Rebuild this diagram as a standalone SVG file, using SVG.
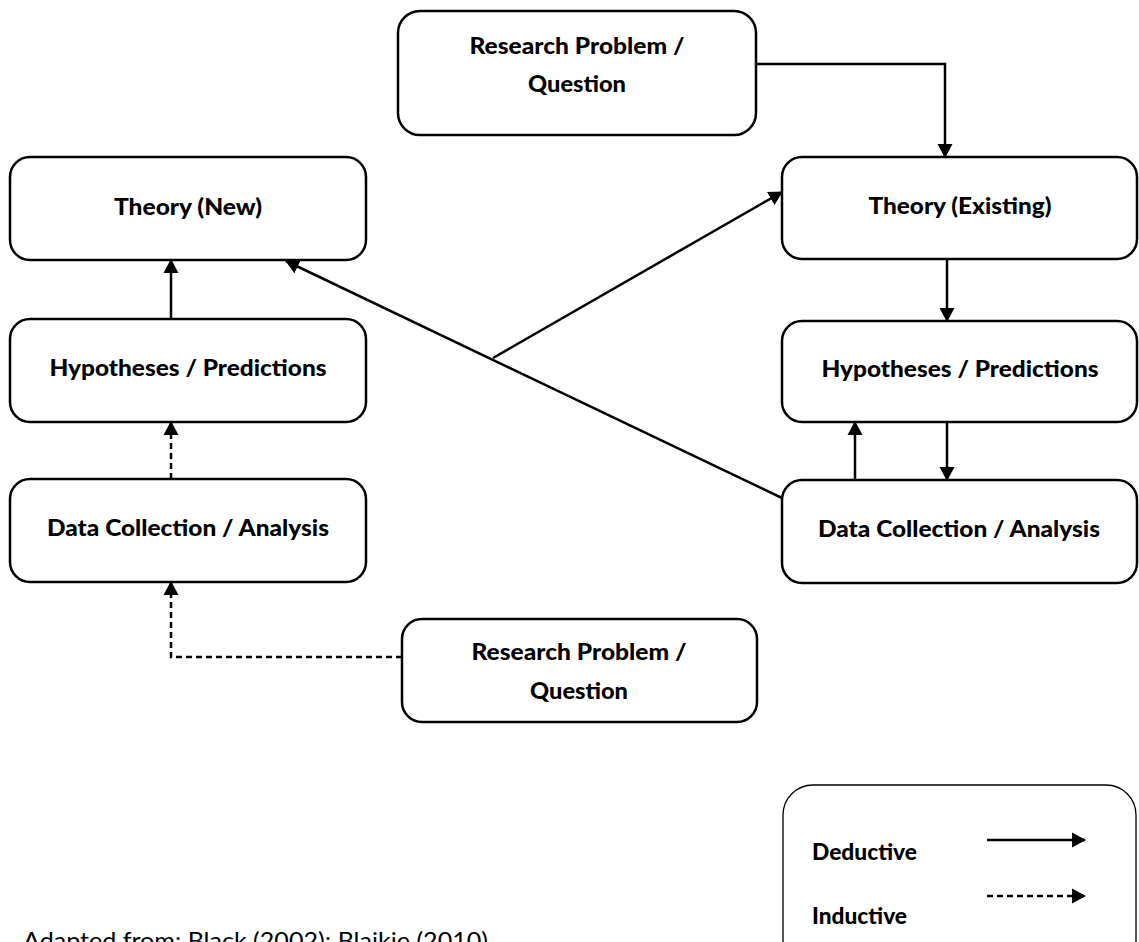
<svg xmlns="http://www.w3.org/2000/svg" width="1139" height="942" viewBox="0 0 1139 942">
  <style>
    .box { fill: #ffffff; stroke: #000000; stroke-width: 2.5; }
    .legend { fill: #ffffff; stroke: #000000; stroke-width: 1.3; }
    .lbl { font-family: Lato, "Liberation Sans", sans-serif; font-weight: 900; font-size: 23px; fill: #000000; text-anchor: middle; }
    .leg { font-family: Lato, "Liberation Sans", sans-serif; font-weight: 900; font-size: 23px; fill: #000000; }
    .note { font-family: Lato, "Liberation Sans", sans-serif; font-size: 23px; fill: #000000; }
    .ded { fill: none; stroke: #000000; stroke-width: 2.5; }
    .ind { fill: none; stroke: #000000; stroke-width: 2.5; stroke-dasharray: 6 4; }
  </style>
  <defs>
    <marker id="arrow" markerUnits="userSpaceOnUse" markerWidth="15" markerHeight="16" refX="13" refY="8" orient="auto">
      <path d="M0,0.5 L14,8 L0,15.5 Z" fill="#000000"/>
    </marker>
  </defs>

  <rect width="1139" height="942" fill="#ffffff"/>

  <!-- connectors -->
  <g id="connectors">
    <!-- deductive path -->
    <path class="ded" d="M756,64 H945 V157" marker-end="url(#arrow)"/>
    <path class="ded" d="M947,259 V321" marker-end="url(#arrow)"/>
    <path class="ded" d="M947,422 V480" marker-end="url(#arrow)"/>
    <path class="ded" d="M855,480 V422" marker-end="url(#arrow)"/>
    <path class="ded" d="M782,498 L286,261" marker-end="url(#arrow)"/>
    <path class="ded" d="M493,358 L782,192" marker-end="url(#arrow)"/>
    <path class="ded" d="M171,319 V260" marker-end="url(#arrow)"/>
    <!-- inductive path -->
    <path class="ind" d="M171,479 V422" marker-end="url(#arrow)"/>
    <path class="ind" d="M402,657 H171 V582" marker-end="url(#arrow)"/>
  </g>

  <!-- right column (deductive) -->
  <g id="rp-top">
    <rect class="box" x="398" y="11" width="358" height="124" rx="22"/>
    <text class="lbl" x="577" y="54" textLength="215" lengthAdjust="spacingAndGlyphs">Research Problem /</text>
    <text class="lbl" x="577" y="92" textLength="98" lengthAdjust="spacingAndGlyphs">Question</text>
  </g>
  <g id="theory-existing">
    <rect class="box" x="782" y="157" width="355" height="102" rx="20"/>
    <text class="lbl" x="960" y="214" textLength="183" lengthAdjust="spacingAndGlyphs">Theory (Existing)</text>
  </g>
  <g id="hyp-right">
    <rect class="box" x="782" y="321" width="355" height="101" rx="20"/>
    <text class="lbl" x="960" y="377" textLength="277" lengthAdjust="spacingAndGlyphs">Hypotheses / Predictions</text>
  </g>
  <g id="data-right">
    <rect class="box" x="782" y="480" width="355" height="103" rx="20"/>
    <text class="lbl" x="959" y="537" textLength="282" lengthAdjust="spacingAndGlyphs">Data Collection / Analysis</text>
  </g>

  <!-- left column (inductive) -->
  <g id="theory-new">
    <rect class="box" x="10" y="157" width="356" height="103" rx="20"/>
    <text class="lbl" x="188" y="215" textLength="148" lengthAdjust="spacingAndGlyphs">Theory (New)</text>
  </g>
  <g id="hyp-left">
    <rect class="box" x="10" y="319" width="356" height="103" rx="20"/>
    <text class="lbl" x="188" y="376" textLength="277" lengthAdjust="spacingAndGlyphs">Hypotheses / Predictions</text>
  </g>
  <g id="data-left">
    <rect class="box" x="10" y="479" width="356" height="103" rx="20"/>
    <text class="lbl" x="188" y="536" textLength="282" lengthAdjust="spacingAndGlyphs">Data Collection / Analysis</text>
  </g>
  <g id="rp-bottom">
    <rect class="box" x="402" y="619" width="355" height="103" rx="20"/>
    <text class="lbl" x="579" y="660" textLength="215" lengthAdjust="spacingAndGlyphs">Research Problem /</text>
    <text class="lbl" x="579" y="699" textLength="98" lengthAdjust="spacingAndGlyphs">Question</text>
  </g>

  <!-- key -->
  <g id="legend">
    <rect class="legend" x="783" y="785" width="353" height="185" rx="30"/>
    <text class="leg" x="812" y="860" textLength="105" lengthAdjust="spacingAndGlyphs">Deductive</text>
    <text class="leg" x="812" y="924" textLength="95" lengthAdjust="spacingAndGlyphs">Inductive</text>
    <path class="ded" d="M987,840 H1085" marker-end="url(#arrow)"/>
    <path class="ind" d="M987,896 H1085" marker-end="url(#arrow)"/>
  </g>

  <g id="source-note">
    <text class="note" x="23" y="949" textLength="465" lengthAdjust="spacingAndGlyphs">Adapted from: Black (2002); Blaikie (2010)</text>
  </g>
</svg>
